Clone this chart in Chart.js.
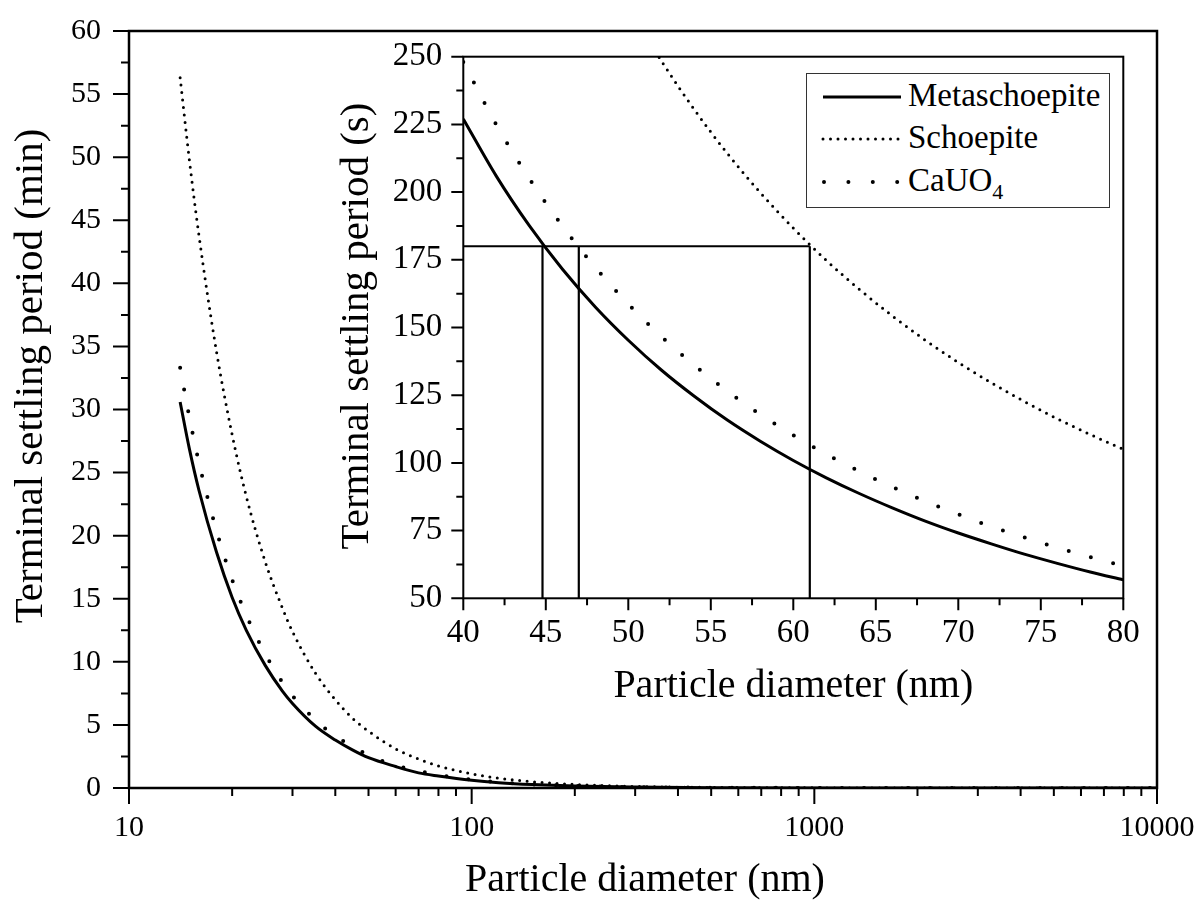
<!DOCTYPE html>
<html>
<head>
<meta charset="utf-8">
<script src="https://cdn.jsdelivr.net/npm/chart.js@4.4.0/dist/chart.umd.min.js"></script>
<style>
  body { margin: 0; background: #fff; }
  #wrap { position: relative; width: 1200px; height: 900px; background: #fff; }
  #mainChart { position: absolute; left: 0; top: 0; }
  #insetChart { position: absolute; left: 330px; top: 30px; }
  #legend {
    position: absolute; left: 806px; top: 73px; width: 302px; height: 133px;
    border: 1.3px solid #333; background: #fff;
    font-family: "Liberation Serif", "Times New Roman", serif; font-size: 33px; color: #000;
  }
  .row { position: absolute; left: 0; height: 40px; line-height: 40px; white-space: nowrap; }
  .row svg { position: absolute; left: 14px; top: 0; }
  .row span { position: absolute; left: 101px; top: -2px; }
  sub { font-size: 22px; vertical-align: -8px; line-height: 0; }
</style>
</head>
<body>
<div id="wrap">
  <canvas id="mainChart" width="1200" height="900"></canvas>
  <canvas id="insetChart" width="830" height="690"></canvas>
  <div id="legend">
    <div class="row" style="top:3px">
      <svg width="82" height="40"><line x1="2" y1="20" x2="80" y2="20" stroke="#000" stroke-width="3"/></svg>
      <span>Metaschoepite</span>
    </div>
    <div class="row" style="top:45px">
      <svg width="82" height="40"><line x1="2" y1="20" x2="80" y2="20" stroke="#000" stroke-width="3" stroke-dasharray="0 7.5" stroke-linecap="round"/></svg>
      <span>Schoepite</span>
    </div>
    <div class="row" style="top:88px">
      <svg width="82" height="40"><line x1="3" y1="20" x2="80" y2="20" stroke="#000" stroke-width="4" stroke-dasharray="0 24.4" stroke-linecap="round"/></svg>
      <span>CaUO<sub>4</sub></span>
    </div>
  </div>
</div>
<script>
const FONT = '"Liberation Serif", "Times New Roman", serif';

// main plot: diameter (nm) vs settling period (min)
const mainDiameters = [14.1, 15, 16, 18, 20, 22, 25, 28, 30, 35, 40, 45, 50, 60, 70, 80, 100, 120, 150, 200, 300, 500, 1000, 2000, 5000, 10000];
const metaMin = [30.6, 26.9, 23.6, 18.7, 15.1, 12.5, 9.7, 7.7, 6.7, 4.9, 3.8, 3.0, 2.4, 1.7, 1.2, 0.95, 0.61, 0.42, 0.27, 0.15, 0.07, 0.02, 0.006, 0.002, 0, 0];
const schoMin = [56.3, 49.8, 43.8, 34.6, 28.0, 23.1, 17.9, 14.3, 12.4, 9.1, 7.0, 5.5, 4.5, 3.1, 2.3, 1.75, 1.12, 0.78, 0.50, 0.28, 0.12, 0.045, 0.011, 0.003, 0, 0];
const cauoMin = [33.3, 29.4, 25.8, 20.4, 16.5, 13.7, 10.6, 8.4, 7.3, 5.4, 4.1, 3.3, 2.6, 1.8, 1.35, 1.03, 0.66, 0.46, 0.29, 0.17, 0.07, 0.026, 0.007, 0.002, 0, 0];

const mainXTicks = [10, 100, 1000, 10000];
const mainXMinor = [20, 30, 40, 50, 60, 70, 80, 90, 200, 300, 400, 500, 600, 700, 800, 900, 2000, 3000, 4000, 5000, 6000, 7000, 8000, 9000];
const mainYTicks = [0, 5, 10, 15, 20, 25, 30, 35, 40, 45, 50, 55, 60];
const mainYMinor = [2.5, 7.5, 12.5, 17.5, 22.5, 27.5, 32.5, 37.5, 42.5, 47.5, 52.5, 57.5];

// inset: diameter (nm) vs settling period (s)
const insetDiameters = [40, 42, 44, 46, 48, 50, 52, 54, 56, 58, 60, 62, 64, 66, 68, 70, 72, 74, 76, 78, 80];
const metaSec = [227, 205.9, 187.6, 171.6, 157.6, 145.3, 134.3, 124.6, 115.8, 108.0, 100.9, 94.5, 88.7, 83.4, 78.5, 74.1, 70.1, 66.3, 62.9, 59.7, 56.8];
const schoSec = [420, 381, 347, 317.6, 291.7, 268.8, 248.5, 230.5, 214.3, 199.8, 186.7, 174.8, 164.1, 154.3, 145.3, 137.1, 129.6, 122.7, 116.3, 110.5, 105.0];
const cauoSec = [248.0, 224.9, 205.0, 187.5, 172.2, 158.7, 146.7, 136.1, 126.5, 117.9, 110.2, 103.2, 96.9, 91.1, 85.8, 81.0, 76.5, 72.5, 68.7, 65.2, 62.0];

const insetXTicks = [40, 45, 50, 55, 60, 65, 70, 75, 80];
const insetXMinor = [42.5, 47.5, 52.5, 57.5, 62.5, 67.5, 72.5, 77.5];
const insetYTicks = [50, 75, 100, 125, 150, 175, 200, 225, 250];
const insetYMinor = [62.5, 87.5, 112.5, 137.5, 162.5, 187.5, 212.5, 237.5];

// 180 s marker and the diameters where each curve crosses it
const refPeriod = 180;
const refDiameters = [44.8, 47.0, 61.0];

function toPoints(xs, ys) {
    return xs.map((x, i) => ({ x: x, y: ys[i] }));
}

function curve(data, width, dash) {
    return {
        data: data,
        borderColor: '#000',
        borderWidth: width,
        borderDash: dash,
        borderCapStyle: dash.length ? 'round' : 'butt',
        pointRadius: 0,
        cubicInterpolationMode: 'monotone',
        fill: false
    };
}

// keep the plot area exactly where the layout padding puts it
function fixSize(prop, size) {
    return s => {
        s[prop] = size;
        s.paddingTop = 0; s.paddingBottom = 0; s.paddingLeft = 0; s.paddingRight = 0;
    };
}

// frame, tick marks, tick labels and titles, placed with the chart's scales
function frameAndTicks(opts) {
    return {
        id: 'frameAndTicks',
        afterDraw(chart) {
            const { ctx, chartArea: a, scales: { x, y } } = chart;
            ctx.save();
            ctx.strokeStyle = '#000';
            ctx.lineWidth = opts.tickWidth;
            ctx.beginPath();
            opts.xMajor.forEach(v => { const p = x.getPixelForValue(v); ctx.moveTo(p, a.bottom); ctx.lineTo(p, a.bottom + opts.major); });
            opts.xMinor.forEach(v => { const p = x.getPixelForValue(v); ctx.moveTo(p, a.bottom); ctx.lineTo(p, a.bottom + opts.minor); });
            opts.yMajor.forEach(v => { const p = y.getPixelForValue(v); ctx.moveTo(a.left, p); ctx.lineTo(a.left - opts.major, p); });
            opts.yMinor.forEach(v => { const p = y.getPixelForValue(v); ctx.moveTo(a.left, p); ctx.lineTo(a.left - opts.minor, p); });
            ctx.stroke();
            ctx.lineWidth = opts.frameWidth;
            ctx.strokeRect(a.left, a.top, a.right - a.left, a.bottom - a.top);

            ctx.fillStyle = '#000';
            ctx.font = opts.tickSize + 'px ' + FONT;
            ctx.textBaseline = 'middle';
            ctx.textAlign = 'center';
            opts.xMajor.forEach(v => ctx.fillText(String(v), x.getPixelForValue(v), a.bottom + opts.xLabelGap));
            ctx.textAlign = 'right';
            opts.yMajor.forEach(v => ctx.fillText(String(v), a.left - opts.yLabelGap, y.getPixelForValue(v)));

            ctx.textAlign = 'center';
            ctx.textBaseline = 'alphabetic';
            ctx.font = opts.titleSize + 'px ' + FONT;
            ctx.fillText(opts.xTitle, opts.xTitlePos[0], opts.xTitlePos[1]);
            ctx.font = opts.yTitleSize + 'px ' + FONT;
            ctx.translate(opts.yTitlePos[0], opts.yTitlePos[1]);
            ctx.rotate(-Math.PI / 2);
            ctx.fillText(opts.yTitle, 0, 0);
            ctx.restore();
        }
    };
}

const noGrid = { display: false, drawTicks: false };

new Chart(document.getElementById('mainChart'), {
    type: 'line',
    data: {
        datasets: [
            curve(toPoints(mainDiameters, schoMin), 3, [0, 7.5]),
            curve(toPoints(mainDiameters, cauoMin), 4, [0, 22]),
            curve(toPoints(mainDiameters, metaMin), 3, [])
        ]
    },
    options: {
        responsive: false,
        devicePixelRatio: 1,
        animation: false,
        layout: { padding: { left: 0, top: 31, right: 43, bottom: 0 } },
        plugins: { legend: { display: false }, tooltip: { enabled: false } },
        scales: {
            x: {
                type: 'logarithmic',
                min: 10, max: 10000,
                grid: noGrid,
                border: { display: false },
                ticks: { display: false },
                afterFit: fixSize('height', 112)
            },
            y: {
                min: 0, max: 60,
                grid: noGrid,
                border: { display: false },
                ticks: { display: false },
                afterFit: fixSize('width', 129)
            }
        }
    },
    plugins: [frameAndTicks({
        xMajor: mainXTicks, xMinor: mainXMinor, yMajor: mainYTicks, yMinor: mainYMinor,
        major: 16, minor: 8, tickWidth: 2, frameWidth: 2.5,
        tickSize: 30, xLabelGap: 40, yLabelGap: 28,
        xTitle: 'Particle diameter (nm)', xTitlePos: [645, 891], titleSize: 40,
        yTitle: 'Terminal settling period (min)', yTitlePos: [42, 376], yTitleSize: 41
    })]
});

const refLines = [toPoints([40, refDiameters[2]], [refPeriod, refPeriod])].concat(
    refDiameters.map(d => toPoints([d, d], [50, refPeriod]))
);

new Chart(document.getElementById('insetChart'), {
    type: 'line',
    data: {
        datasets: [
            curve(toPoints(insetDiameters, schoSec), 3, [0, 7.5]),
            curve(toPoints(insetDiameters, cauoSec), 4, [0, 23]),
            curve(toPoints(insetDiameters, metaSec), 3, [])
        ].concat(refLines.map((pts, i) => ({
            data: pts,
            borderColor: '#000',
            borderWidth: i === 0 ? 1.8 : 2.2,
            pointRadius: 0,
            tension: 0
        })))
    },
    options: {
        responsive: false,
        devicePixelRatio: 1,
        animation: false,
        layout: { padding: { left: 0, top: 26.7, right: 36.7, bottom: 0 } },
        plugins: { legend: { display: false }, tooltip: { enabled: false } },
        scales: {
            x: {
                type: 'linear',
                min: 40, max: 80,
                grid: noGrid,
                border: { display: false },
                ticks: { display: false },
                afterFit: fixSize('height', 121.7)
            },
            y: {
                min: 50, max: 250,
                grid: noGrid,
                border: { display: false },
                ticks: { display: false },
                afterFit: fixSize('width', 133.3)
            }
        }
    },
    plugins: [frameAndTicks({
        xMajor: insetXTicks, xMinor: insetXMinor, yMajor: insetYTicks, yMinor: insetYMinor,
        major: 12, minor: 7, tickWidth: 2, frameWidth: 2,
        tickSize: 33, xLabelGap: 35, yLabelGap: 21,
        xTitle: 'Particle diameter (nm)', xTitlePos: [463.3, 667], titleSize: 40,
        yTitle: 'Terminal settling period (s)', yTitlePos: [38, 296], yTitleSize: 41
    })]
});
</script>
</body>
</html>
